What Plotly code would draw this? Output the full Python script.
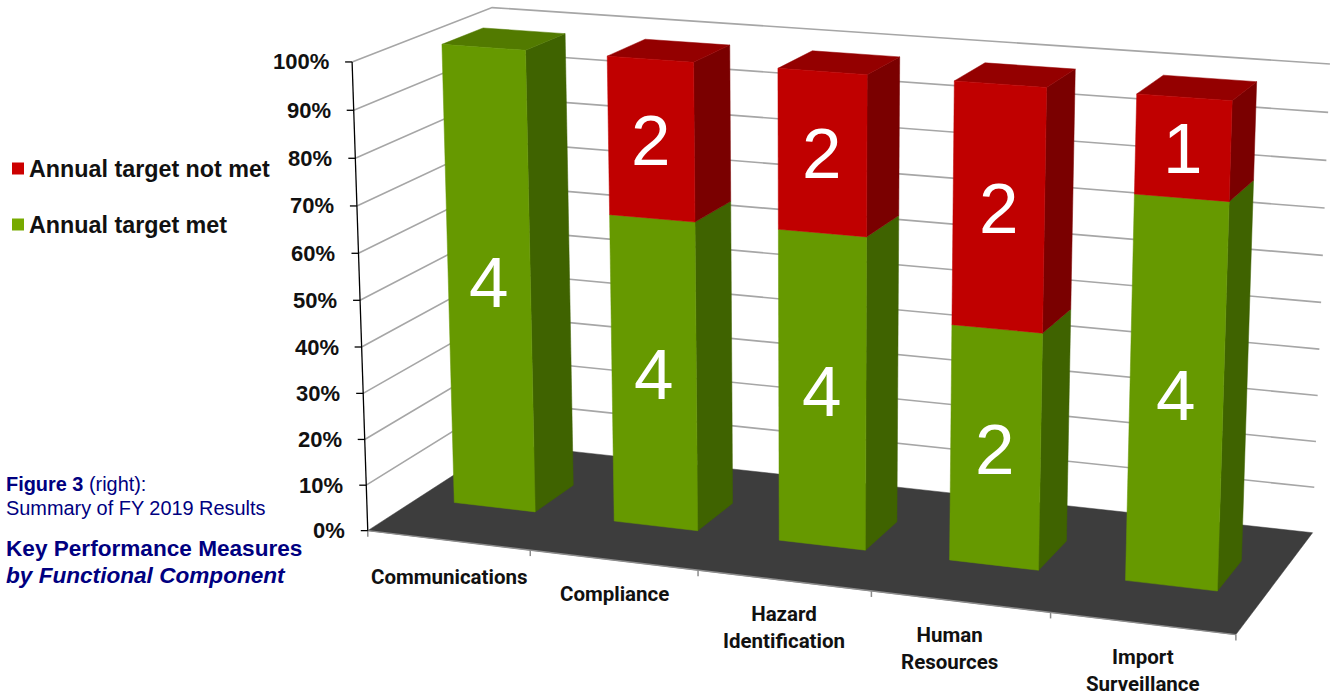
import numpy as np
import plotly.graph_objects as go

categories = ["Communications", "Compliance", "Hazard<br>Identification", "Human<br>Resources", "Import<br>Surveillance"]
met = [4, 4, 4, 2, 4]
not_met = [0, 2, 2, 2, 1]
pct_ticks = [0, 10, 20, 30, 40, 50, 60, 70, 80, 90, 100]

# perspective camera of the 3-D chart box: (category, depth, share) -> page pixels
CAMERA = np.array([
    [154.13854775, 174.05064658, -27.55281698, 367.7678126],
    [10.79256655, -51.91242158, -470.77330631, 530.63019362],
    [-0.01576477, 0.07876237, -0.03374564, 1.0],
])
BAR_C0, BAR_C1, BAR_D0, BAR_D1 = 0.232, 0.742, 0.355, 0.655
NAVY = "#000080"
FACES = {
    "met": dict(front="#669900", side="#3f6300", top="#527a00"),
    "not": dict(front="#C00000", side="#7a0000", top="#940000"),
}


def proj(c, d, p):
    h = CAMERA @ np.array([c, d, p / 100.0, 1.0])
    return h[0] / h[2], h[1] / h[2]


def poly(corners):
    pts = [proj(*k) for k in corners] + [proj(*corners[0])]
    return [a for a, _ in pts] + [None], [b for _, b in pts] + [None]


def line_trace(xs, ys, color, width):
    return go.Scatter(x=xs, y=ys, mode="lines", line=dict(color=color, width=width),
                      hoverinfo="skip", showlegend=False)


def fill_trace(name, polys, color):
    xs, ys = [], []
    for c in polys:
        a, b = poly(c)
        xs += a
        ys += b
    return go.Scatter(x=xs, y=ys, mode="lines", fill="toself", fillcolor=color, name=name,
                      line=dict(color=color, width=0.5), hoverinfo="skip", showlegend=False)


fig = go.Figure()
NC = len(categories)

# gridlines on the left and back walls
gx, gy = [], []
for p in pct_ticks[1:]:
    for k in [(0, 0, p), (0, 1, p), (NC, 1, p)]:
        a, b = proj(*k)
        gx.append(a)
        gy.append(b)
    gx.append(None)
    gy.append(None)
fig.add_trace(line_trace(gx, gy, "#a6a6a6", 1.6))

# floor
fig.add_trace(fill_trace("floor", [[(0, 0, 0), (NC, 0, 0), (NC, 1, 0), (0, 1, 0)]], "#3d3d3d"))

# floor edge and category ticks
ex, ey = [], []
a0, b0 = proj(0, 0, 0)
a1, b1 = proj(NC, 0, 0)
ex += [a0, a1, None]
ey += [b0, b1, None]
for i in range(NC + 1):
    a, b = proj(i, 0, 0)
    ex += [a, a, None]
    ey += [b, b + 6, None]
fig.add_trace(line_trace(ex, ey, "#8c8c8c", 1.5))

# vertical axis
vx, vy = [], []
a0, b0 = proj(0, 0, 0)
a1, b1 = proj(0, 0, 100)
vx += [a0, a1, None]
vy += [b0, b1, None]
for p in pct_ticks:
    a, b = proj(0, 0, p)
    vx += [a - 7, a, None]
    vy += [b, b, None]
fig.add_trace(line_trace(vx, vy, "#000000", 1.3))

# bars
for i in range(NC):
    total = met[i] + not_met[i]
    c0, c1 = i + BAR_C0, i + BAR_C1
    share = 100.0 * met[i] / total
    segs = [("met", 0.0, share, met[i])]
    if not_met[i]:
        segs.append(("not", share, 100.0, not_met[i]))
    for key, lo, hi, n in segs:
        col = FACES[key]
        fig.add_trace(fill_trace(key + " side", [[(c1, BAR_D0, lo), (c1, BAR_D1, lo), (c1, BAR_D1, hi), (c1, BAR_D0, hi)]], col["side"]))
        if hi == 100.0:
            fig.add_trace(fill_trace(key + " top", [[(c0, BAR_D0, hi), (c1, BAR_D0, hi), (c1, BAR_D1, hi), (c0, BAR_D1, hi)]], col["top"]))
        fig.add_trace(fill_trace(key + " front", [[(c0, BAR_D0, lo), (c1, BAR_D0, lo), (c1, BAR_D0, hi), (c0, BAR_D0, hi)]], col["front"]))
        mx, my = proj((c0 + c1) / 2, BAR_D0, (lo + hi) / 2)
        fig.add_annotation(x=mx, y=my + 1, text=str(n), showarrow=False, xanchor="center", yanchor="middle",
                           font=dict(family="Liberation Sans, Arial, sans-serif", size=71, color="#ffffff"))

# percent labels
for p in pct_ticks:
    a, b = proj(0, 0, p)
    fig.add_annotation(x=a - 21, y=b, text=f"{p}%", showarrow=False, xanchor="right", yanchor="middle",
                       font=dict(family="Liberation Sans, Arial, sans-serif", size=22, color="#111111", weight="bold"))

# category labels
label_dx = [1, 1, 0, -11, 1]
label_dy = [37, 34, 47, 47, 47]
for i, name in enumerate(categories):
    a, b = proj(i + 0.5, 0, 0)
    fig.add_annotation(x=a + label_dx[i], y=b + label_dy[i], text=name, showarrow=False, xanchor="center", yanchor="middle",
                       align="center",
                       font=dict(family="Roboto, Liberation Sans, Arial, sans-serif", size=20.5,
                                 color="#111111", weight="bold"))

# legend
legend_names = ["Annual target not met", "Annual target met"]
legend_cols = ["#CC0000", "#77AA00"]
legend_y = [168.5, 224.5]
for nm, col, y in zip(legend_names, legend_cols, legend_y):
    fig.add_trace(go.Scatter(x=[18], y=[y], mode="markers", hoverinfo="skip", showlegend=False,
                             marker=dict(symbol="square", size=12, color=col)))
    fig.add_annotation(x=27, y=y, text=nm, showarrow=False, xanchor="left", yanchor="middle",
                       font=dict(family="Liberation Sans, Arial, sans-serif", size=23.3, color="#111111", weight="bold"))

# side note
notes = [(484, "<b>Figure 3</b> (right):", 19.9), (508, "Summary of FY 2019 Results", 19.9),
         (548, "<b>Key Performance Measures</b>", 22.6), (575, "<b><i>by Functional Component</i></b>", 22.6)]
for y, t, s in notes:
    fig.add_annotation(x=4, y=y, text=t, showarrow=False, xanchor="left", yanchor="middle",
                       font=dict(family="Liberation Sans, Arial, sans-serif", size=s, color=NAVY))

fig.update_layout(width=1330, height=694, margin=dict(l=0, r=0, t=0, b=0), paper_bgcolor="#ffffff",
                  plot_bgcolor="#ffffff", showlegend=False,
                  xaxis=dict(range=[0, 1330], visible=False, fixedrange=True),
                  yaxis=dict(range=[694, 0], visible=False, fixedrange=True))
fig.write_html("out.html", config=dict(displayModeBar=False),
               post_script="document.body.style.margin='0';document.body.style.overflow='hidden';")
